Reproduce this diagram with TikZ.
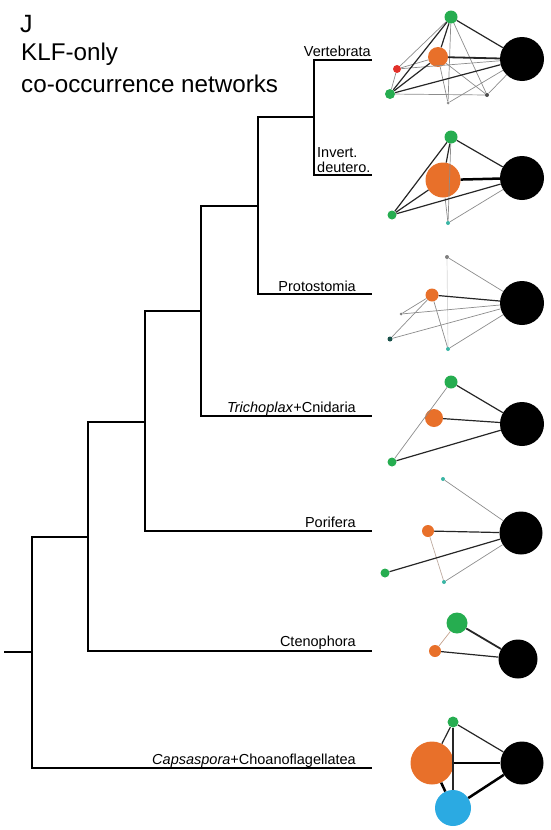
\documentclass[tikz,border=0pt]{standalone}
\usepackage{fontspec}
\setmainfont{Liberation Sans}
\usetikzlibrary{positioning}

\definecolor{klfgreen}{HTML}{26AD50}
\definecolor{klforange}{HTML}{E8702A}
\definecolor{klfred}{HTML}{E2312A}
\definecolor{klfblue}{HTML}{2BAAE2}
\definecolor{klfteal}{HTML}{3AB5A4}

\tikzset{
  branch/.style={line width=1.8pt, line cap=rect},
  taxon/.style={anchor=base east, inner sep=0pt, font=\fontsize{14.5}{17}\selectfont},
  gene/.style={circle, inner sep=0pt, minimum size=#1},
  blk/.style={gene=#1, fill=black},
  grn/.style={gene=#1, fill=klfgreen},
  org/.style={gene=#1, fill=klforange},
  strong/.style={draw=black!85, line width=1.2pt},
  weak/.style={draw=black!45, line width=0.7pt},
  heavy/.style={draw=black, line width=2.5pt}
}

\begin{document}
\begin{tikzpicture}[x=1pt,y=-1pt]
	\useasboundingbox (0,0) rectangle (551,830);
	% title
	\node[anchor=base west, inner sep=0pt, font=\fontsize{25}{30}\selectfont] (panel) at (20,32) {J};
	\node[anchor=base west, inner sep=0pt, font=\fontsize{24.2}{30}\selectfont] (title1) at (21,60) {KLF-only};
	\node[anchor=base west, inner sep=0pt, font=\fontsize{24.2}{30}\selectfont] (title2) at (21,92) {co-occurrence networks};

	% tree
	\coordinate (stub) at (5,652);
	\coordinate (r) at (32,652);
	\coordinate (n1) at (88,537);
	\coordinate (n2) at (145,422);
	\coordinate (n3) at (201,311);
	\coordinate (n4) at (258,206);
	\coordinate (n5) at (314,117);
	\coordinate (vert) at (371,60);
	\coordinate (inv) at (371,175);
	\coordinate (pro) at (371,294);
	\coordinate (tri) at (371,416);
	\coordinate (por) at (371,531);
	\coordinate (cte) at (371,651);
	\coordinate (cap) at (371,768);
	\draw[branch] (stub) -- (r);
	\foreach \p/\c in {r/n1,r/cap,n1/n2,n1/cte,n2/n3,n2/por,n3/n4,n3/tri,n4/n5,n4/pro,n5/vert,n5/inv}
		\draw[branch] (\p) |- (\c);

	\node[taxon] (lab-vert) at ([yshift=4pt]vert) {Vertebrata};
	\node[taxon, anchor=base west] (lab-inv1) at (317,157) {Invert.};
	\node[taxon, anchor=base west] (lab-inv2) at (317,172) {deutero.};
	\node[taxon] (lab-pro) at ([xshift=-15pt,yshift=3pt]pro) {Protostomia};
	\node[taxon] (lab-tri) at ([xshift=-15pt,yshift=4pt]tri) {\textit{Trichoplax}+Cnidaria};
	\node[taxon] (lab-por) at ([xshift=-15pt,yshift=4pt]por) {Porifera};
	\node[taxon] (lab-cte) at ([xshift=-15pt,yshift=5pt]cte) {Ctenophora};
	\node[taxon] (lab-cap) at ([xshift=-15pt,yshift=4pt]cap) {\textit{Capsaspora}+Choanoflagellatea};

	% Vertebrata network
	\node[blk=44] (v-blk) at (522,59) {};
	\node[grn=13] (v-g1) at (451,17) {};
	\node[org=20] (v-or) at (438,57) {};
	\node[gene=8, fill=klfred] (v-red) at (397,69) {};
	\node[grn=10] (v-g2) at (390,94) {};
	\node[gene=3, fill=black!45] (v-d1) at (448,103) {};
	\node[gene=4, fill=black!70] (v-d2) at (487,95) {};
	\foreach \a/\b in {g1/red,g1/d1,g1/d2,or/red,red/blk,or/d2,or/d1,g2/d2,d1/blk,d2/blk,red/g2}
		\draw[weak] (v-\a) -- (v-\b);
	\foreach \a/\b in {g1/blk,g1/g2,g1/or,g2/blk,or/g2}
		\draw[strong] (v-\a) -- (v-\b);
	\draw[strong, line width=1.8pt] (v-or) -- (v-blk);

	% Invert. deutero. network
	\node[blk=44] (i-blk) at (522,178) {};
	\node[org=35] (i-or) at (443,180) {};
	\node[grn=13] (i-g1) at (451,137) {};
	\node[grn=9] (i-g2) at (392,215) {};
	\node[gene=4, fill=klfteal] (i-d) at (448,223) {};
	\foreach \a/\b in {g1/d,d/blk,or/d}
		\draw[weak] (i-\a) -- (i-\b);
	\foreach \a/\b in {g1/blk,g1/g2,g1/or,g2/blk,or/g2}
		\draw[strong] (i-\a) -- (i-\b);
	\draw[heavy] (i-or) -- (i-blk);

	% Protostomia network
	\node[blk=44] (p-blk) at (522,303) {};
	\node[org=13] (p-or) at (432,295) {};
	\node[gene=4, fill=black!50] (p-d1) at (447,257) {};
	\node[gene=3, fill=black!50] (p-d2) at (401,314) {};
	\node[gene=5, fill=black!55!klfteal] (p-d3) at (390,339) {};
	\node[gene=4, fill=klfteal] (p-d4) at (448,349) {};
	\draw[weak, draw=black!15] (p-d1) -- (p-d4);
	\foreach \a/\b in {d1/blk,or/d2,or/d3,or/d4,d2/blk,d3/blk,d4/blk}
		\draw[weak] (p-\a) -- (p-\b);
	\draw[strong] (p-or) -- (p-blk);

	% Trichoplax+Cnidaria network
	\node[blk=44] (t-blk) at (522,424) {};
	\node[grn=13] (t-g1) at (451,382) {};
	\node[org=18] (t-or) at (434,418) {};
	\node[grn=9] (t-g2) at (392,462) {};
	\draw[weak] (t-g1) -- (t-g2);
	\foreach \a/\b in {g1/blk,or/blk,g2/blk}
		\draw[strong] (t-\a) -- (t-\b);

	% Porifera network
	\node[blk=43] (o-blk) at (521,533) {};
	\node[gene=4, fill=klfteal] (o-d1) at (443,479) {};
	\node[org=12] (o-or) at (428,531) {};
	\node[grn=9] (o-g) at (385,573) {};
	\node[gene=4, fill=klfteal] (o-d2) at (444,582) {};
	\draw[weak] (o-d1) -- (o-blk);
	\draw[weak] (o-d2) -- (o-blk);
	\draw[weak, draw=klforange!40!black!40] (o-or) -- (o-d2);
	\draw[strong] (o-or) -- (o-blk);
	\draw[strong] (o-g) -- (o-blk);

	% Ctenophora network
	\node[grn=21] (c-g) at (457,623) {};
	\node[org=12] (c-or) at (435,651) {};
	\node[blk=39] (c-blk) at (518,659) {};
	\draw[weak, draw=klforange!60!black!50] (c-or) -- (c-g);
	\draw[strong, line width=1.8pt] (c-g) -- (c-blk);
	\draw[strong] (c-or) -- (c-blk);

	% Capsaspora+Choanoflagellatea network
	\node[grn=11] (s-g) at (453,722) {};
	\node[org=43] (s-or) at (432,763) {};
	\node[blk=43] (s-blk) at (522,763) {};
	\node[gene=36, fill=klfblue] (s-bl) at (453,808) {};
	\foreach \a/\b in {g/or,g/blk,g/bl}
		\draw[strong] (s-\a) -- (s-\b);
	\foreach \a/\b in {or/blk,or/bl,bl/blk}
		\draw[heavy] (s-\a) -- (s-\b);
\end{tikzpicture}
\end{document}
